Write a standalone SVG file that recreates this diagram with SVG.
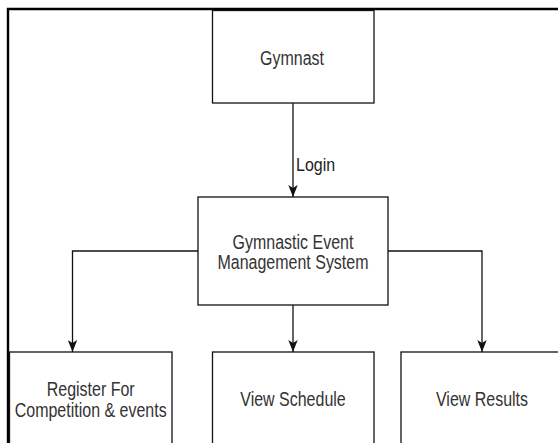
<svg xmlns="http://www.w3.org/2000/svg" width="558" height="443" viewBox="0 0 558 443">
<style>
  .box{fill:#fff;stroke:#111;stroke-width:1.3}
  .edge{fill:none;stroke:#111;stroke-width:1.3}
  .t{font-family:"Liberation Sans",Arial,sans-serif;font-size:16px;fill:#333;text-anchor:middle}
  .lbl{font-family:"Liberation Sans",Arial,sans-serif;font-size:16px;fill:#222;text-anchor:start}
</style>
<defs>
  <marker id="arr" viewBox="0 0 12 10" refX="12" refY="5" markerWidth="12" markerHeight="10" markerUnits="userSpaceOnUse" orient="auto">
    <path d="M0,0.3 L12,5 L0,9.7 L3,5 Z" fill="#111"/>
  </marker>
</defs>
<rect width="558" height="443" fill="#fff"/>
<path d="M8,443 V9 H558" fill="none" stroke="#000" stroke-width="2.4"/>
<g id="connectors">
  <path class="edge" d="M293,103 V197" marker-end="url(#arr)"/>
  <path class="edge" d="M198,251 H72.5 V352" marker-end="url(#arr)"/>
  <path class="edge" d="M293,305 V352" marker-end="url(#arr)"/>
  <path class="edge" d="M388,251 H482 V352" marker-end="url(#arr)"/>
  <text class="lbl" transform="translate(296,171) scale(1,1.15)">Login</text>
</g>
<g id="gymnast">
  <rect class="box" x="212.5" y="10.5" width="161.5" height="92.5"/>
  <text class="t" transform="translate(292,64.5) scale(1,1.22)">Gymnast</text>
</g>
<g id="system">
  <rect class="box" x="198" y="197" width="190" height="108"/>
  <text class="t" transform="translate(293,248.5) scale(1,1.22)">Gymnastic Event</text>
  <text class="t" transform="translate(293,269) scale(1,1.22)">Management System</text>
</g>
<g id="register">
  <rect class="box" x="9.5" y="352" width="162.5" height="100"/>
  <text class="t" transform="translate(90.7,395.7) scale(1,1.22)">Register For</text>
  <text class="t" transform="translate(90.7,416.7) scale(1,1.22)">Competition &amp; events</text>
</g>
<g id="schedule">
  <rect class="box" x="212.5" y="352" width="161.5" height="100"/>
  <text class="t" transform="translate(293,406) scale(1,1.22)">View Schedule</text>
</g>
<g id="results">
  <rect class="box" x="401" y="352" width="162" height="100"/>
  <text class="t" transform="translate(482,405.7) scale(1,1.22)">View Results</text>
</g>
</svg>
